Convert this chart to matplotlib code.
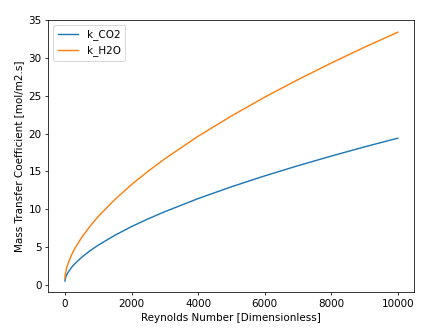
import matplotlib
matplotlib.use("Agg")
import matplotlib.pyplot as plt

# Reynolds numbers and mass transfer coefficients [mol/m2.s]
reynolds = [0, 10, 50, 100, 200, 300, 500, 750, 1000, 1500, 2000, 2500,
            3000, 4000, 5000, 6000, 7000, 8000, 9000, 10000]
k_co2 = [0.50, 0.80, 1.29, 1.69, 2.31, 2.80, 3.63, 4.49, 5.24, 6.55, 7.70,
         8.72, 9.67, 11.40, 12.96, 14.40, 15.75, 17.02, 18.24, 19.39]
k_h2o = [0.85, 1.37, 2.21, 2.90, 3.96, 4.82, 6.24, 7.73, 9.03, 11.28, 13.25,
         15.02, 16.66, 19.64, 22.32, 24.81, 27.13, 29.32, 31.42, 33.40]

plt.rcParams["font.size"] = 10.9

dpi = 68.6
fig = plt.figure(figsize=(439 / dpi, 330 / dpi), dpi=dpi)
ax = fig.add_axes([0.110, 0.114, 0.834, 0.825])

ax.plot(reynolds, k_co2, label="k_CO2")
ax.plot(reynolds, k_h2o, label="k_H2O")

ax.set_ylim(-1.0, 35.0)
ax.set_xlabel("Reynolds Number [Dimensionless]")
ax.set_ylabel("Mass Transfer Coefficient [mol/m2.s]")
ax.legend(loc="upper left")

fig.savefig("out.png", dpi=dpi)
